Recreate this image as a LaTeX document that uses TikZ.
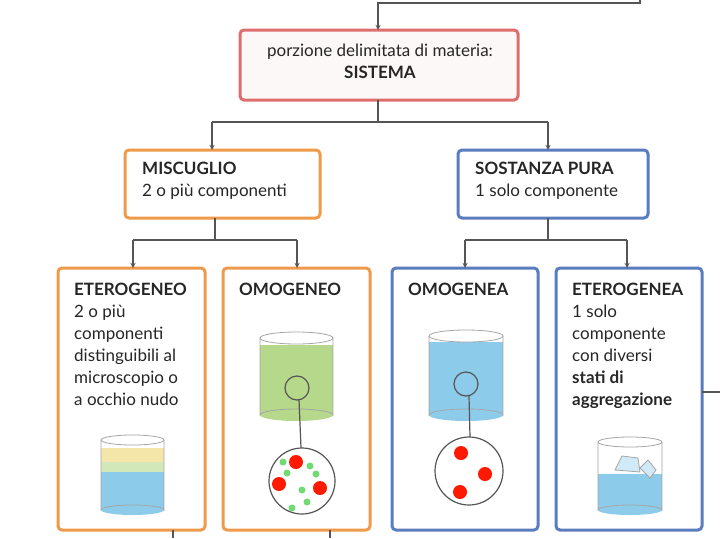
\documentclass[tikz,border=0pt]{standalone}
\usepackage{fontspec}
\setmainfont{Lato}
\usetikzlibrary{positioning}
\definecolor{arancio}{HTML}{EE9A4A}
\definecolor{blu}{HTML}{5A7DBE}
\definecolor{rosso}{HTML}{DE6E6E}
\definecolor{linea}{HTML}{555555}
\definecolor{acqua}{HTML}{8CCBEA}
\definecolor{verde}{HTML}{B5D88A}
\definecolor{giallo}{HTML}{F3E6A8}
\begin{document}
\begin{tikzpicture}[x=1pt,y=-1pt,
    box/.style={rectangle, rounded corners=4pt, line width=3pt, fill=white},
    orangebox/.style={box, draw=arancio},
    bluebox/.style={box, draw=blu},
    redbox/.style={box, draw=rosso, fill=rosso!5},
    txt/.style={font=\fontsize{17}{22}\selectfont, text=black!85, align=left, anchor=north west, inner sep=0pt},
    conn/.style={draw=linea, line width=1.3pt},
    arr/.style={conn, ->, >=stealth},
    beaker/.style={draw=gray!70, line width=0.8pt},
    lens/.style={draw=linea, line width=1.2pt},
    mol/.style={fill=red!80!orange},
    dot/.style={fill=green!60!gray!70}]
  \useasboundingbox (0,0) rectangle (720,538);

  % boxes
  \draw[redbox] (240,30) rectangle (518,100);
  \draw[orangebox] (125,150) rectangle (320,218);
  \draw[bluebox] (458,150) rectangle (648,218);
  \draw[orangebox] (58,268) rectangle (205,530);
  \draw[orangebox] (223,268) rectangle (370,530);
  \draw[bluebox] (392,268) rectangle (538,530);
  \draw[bluebox] (556,268) rectangle (702,530);

  % texts
  \node[txt, align=center, anchor=north] (sis) at (380,44) {porzione delimitata di materia:\\\textbf{SISTEMA}};
  \node[txt] (mis) at (142,162) {\textbf{MISCUGLIO}\\2 o più componenti};
  \node[txt] (sos) at (475,162) {\textbf{SOSTANZA PURA}\\1 solo componente};
  \node[txt] (ete) at (74,283) {\textbf{ETEROGENEO}\\2 o più\\componenti\\distinguibili al\\microscopio o\\a occhio nudo};
  \node[txt] (omo) at (239,283) {\textbf{OMOGENEO}};
  \node[txt] (oma) at (408,283) {\textbf{OMOGENEA}};
  \node[txt] (eta) at (572,283) {\textbf{ETEROGENEA}\\1 solo\\componente\\con diversi\\\textbf{stati di}\\\textbf{aggregazione}};

  % connectors
  \coordinate (t0) at (640,0);
  \coordinate (t1) at (640,3);
  \coordinate (t2) at (378,3);
  \coordinate (t3) at (378,30);
  \draw[arr] (t0) -- (t1) -- (t2) -- (t3);
  \coordinate (s0) at (378,100);
  \coordinate (s1) at (378,122);
  \coordinate (sl) at (212,122);
  \coordinate (sr) at (548,122);
  \draw[conn] (s0) -- (s1) (sl) -- (sr);
  \draw[arr] (sl) -- (212,150);
  \draw[arr] (sr) -- (548,150);
  \coordinate (m0) at (215,218);
  \coordinate (ml) at (133,240);
  \coordinate (mr) at (297,240);
  \draw[conn] (m0) -- (215,240) (ml) -- (mr);
  \draw[arr] (ml) -- (133,268);
  \draw[arr] (mr) -- (297,268);
  \coordinate (p0) at (548,218);
  \coordinate (pl) at (465,240);
  \coordinate (pr) at (627,240);
  \draw[conn] (p0) -- (548,240) (pl) -- (pr);
  \draw[arr] (pl) -- (465,268);
  \draw[arr] (pr) -- (627,268);
  \draw[conn] (173,530) -- (173,538);
  \draw[conn] (330,530) -- (330,538);
  \draw[conn] (702,392) -- (720,392);

  % beaker eterogeneo
  \fill[acqua] (101,470) rectangle (164,510);
  \fill[verde!60] (101,462) rectangle (164,472);
  \fill[giallo] (101,448) rectangle (164,462);
  \fill[acqua] (132.5,510) ellipse (31.5 and 5);
  \draw[beaker] (132.5,440) ellipse (31.5 and 5);
  \draw[beaker] (101,440) -- (101,510) arc (180:0:31.5 and -5) -- (164,440);

  % beaker omogeneo
  \fill[verde] (260,345) rectangle (333,415);
  \fill[verde] (296.5,415) ellipse (36.5 and 6);
  \draw[beaker] (296.5,338) ellipse (36.5 and 6);
  \draw[beaker] (260,338) -- (260,415) arc (180:0:36.5 and -6) -- (333,338);
  \draw[lens] (297,388) circle (12);
  \draw[lens] (299,400) -- (301,448);
  \draw[lens, fill=white] (302,481) circle (33);
  \foreach \p in {(296,462),(279,484),(320,488)} \fill[mol] \p circle (7);
  \foreach \p in {(283,462),(310,466),(316,474),(302,490),(292,508),(287,473),(307,502)} \fill[dot] \p circle (3.5);

  % beaker omogenea
  \fill[acqua] (429,342) rectangle (503,415);
  \fill[acqua] (466,415) ellipse (37 and 6);
  \draw[beaker] (466,336) ellipse (37 and 6);
  \draw[beaker] (429,336) -- (429,415) arc (180:0:37 and -6) -- (503,336);
  \draw[lens] (466,384) circle (12);
  \draw[lens] (469,396) -- (470,437);
  \draw[lens, fill=white] (469,471) circle (34);
  \foreach \p in {(461,453),(485,474),(460,492)} \fill[mol] \p circle (7);

  % beaker eterogenea
  \fill[acqua] (598,474) rectangle (662,510);
  \fill[acqua] (630,510) ellipse (32 and 5);
  \draw[beaker] (630,442) ellipse (32 and 5);
  \draw[beaker] (598,442) -- (598,510) arc (180:0:32 and -5) -- (662,442);
  \draw[beaker, fill=acqua!40] (615,470) -- (622,456) -- (638,458) -- (640,472) -- cycle;
  \draw[beaker, fill=acqua!40] (640,468) -- (648,460) -- (656,470) -- (650,478) -- cycle;
\end{tikzpicture}
\end{document}
